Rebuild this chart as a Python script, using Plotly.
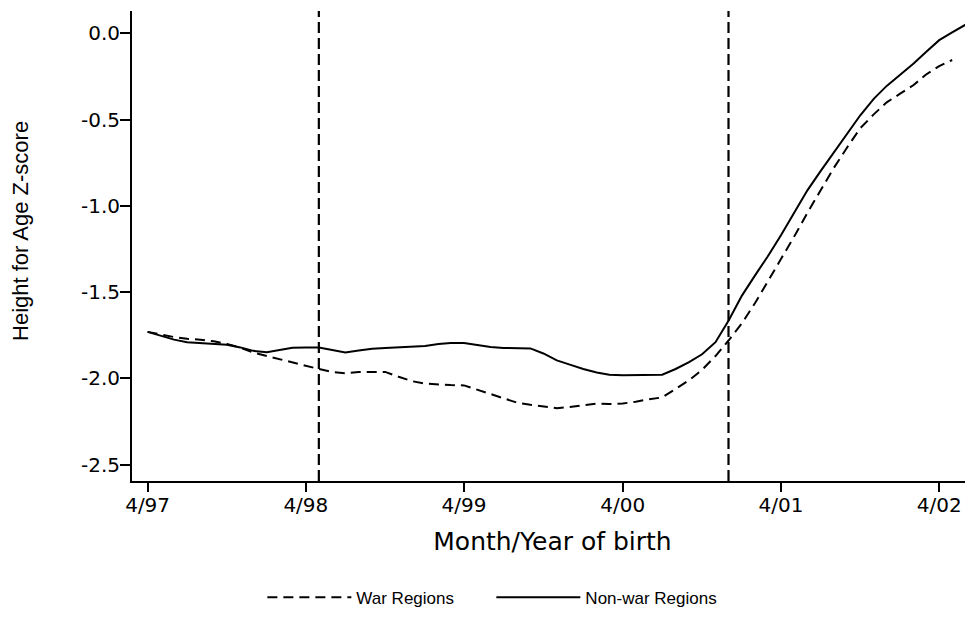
import pandas as pd
import plotly.graph_objects as go

# monthly birth cohorts, 4/97 onwards
months = pd.date_range("1997-04-01", periods=63, freq="MS")

non_war = [-1.73, -1.75, -1.775, -1.79, -1.795, -1.80, -1.805, -1.82, -1.84, -1.848,
           -1.835, -1.822, -1.82, -1.821, -1.835, -1.849, -1.838, -1.828, -1.824, -1.82,
           -1.815, -1.812, -1.80, -1.795, -1.795, -1.805, -1.818, -1.823, -1.824, -1.826,
           -1.855, -1.895, -1.92, -1.945, -1.965, -1.978, -1.982, -1.982, -1.982, -1.978,
           -1.945, -1.905, -1.86, -1.79, -1.665, -1.52, -1.40, -1.295, -1.17, -1.04,
           -0.91, -0.80, -0.69, -0.58, -0.475, -0.38, -0.305, -0.24, -0.175, -0.11,
           -0.04, 0.005, 0.05]

war = [-1.73, -1.745, -1.76, -1.77, -1.775, -1.785, -1.80, -1.822, -1.85, -1.87,
       -1.89, -1.91, -1.93, -1.945, -1.962, -1.97, -1.962, -1.962, -1.962, -1.99,
       -2.015, -2.03, -2.035, -2.038, -2.04, -2.065, -2.09, -2.115, -2.14, -2.152,
       -2.163, -2.172, -2.165, -2.153, -2.145, -2.148, -2.145, -2.135, -2.12, -2.11,
       -2.06, -2.01, -1.95, -1.87, -1.78, -1.68, -1.56, -1.44, -1.31, -1.18,
       -1.04, -0.91, -0.78, -0.66, -0.55, -0.47, -0.40, -0.35, -0.30, -0.24,
       -0.19, -0.155]

event_dates = ["1998-05-01", "2000-12-01"]

tick_dates = ["1997-04-01", "1998-04-01", "1999-04-01", "2000-04-01", "2001-04-01", "2002-04-01"]
tick_labels = ["4/97", "4/98", "4/99", "4/00", "4/01", "4/02"]
y_ticks = [0.0, -0.5, -1.0, -1.5, -2.0, -2.5]
y_labels = ["0.0", "-0.5", "-1.0", "-1.5", "-2.0", "-2.5"]

fig = go.Figure()
fig.add_trace(go.Scatter(x=months[:len(war)], y=war, mode="lines", name="War Regions",
                         line=dict(color="black", width=2, dash="10px,6px")))
fig.add_trace(go.Scatter(x=months[:len(non_war)], y=non_war, mode="lines", name="Non-war Regions",
                         line=dict(color="black", width=2)))

for d in event_dates:
    fig.add_shape(type="line", x0=d, x1=d, y0=0, y1=1, xref="x", yref="paper",
                  line=dict(color="black", width=2.2, dash="11px,5px"))

# y title sits a bit above the middle of the axis in the original
fig.add_annotation(text="Height for Age Z-score", xref="paper", yref="paper",
                   x=-0.132, y=0.532, xanchor="center", yanchor="middle",
                   textangle=-90, showarrow=False,
                   font=dict(family="Liberation Sans", size=22))

# page body has an 8px margin, so the figure is sized to fit inside it
fig.update_layout(
    width=965, height=602,
    margin=dict(l=124, r=0, t=3, b=129, autoexpand=False),
    plot_bgcolor="white", paper_bgcolor="white",
    font=dict(family="DejaVu Sans", color="black", size=20),
    showlegend=True,
    legend=dict(orientation="h", x=0.155, xanchor="left", y=-0.2485, yanchor="middle",
                font=dict(family="Liberation Sans", size=17), itemwidth=84,
                entrywidthmode="pixels", entrywidth=130),
    xaxis=dict(
        range=["1997-02-24", "2002-06-18"],
        tickvals=tick_dates, ticktext=tick_labels,
        ticks="outside", ticklen=9, tickwidth=2, tickcolor="black",
        ticklabelstandoff=-4,
        showline=True, linecolor="black", linewidth=2,
        showgrid=False, zeroline=False, automargin=False,
        title=dict(text="Month/Year of birth", font=dict(size=25), standoff=16),
    ),
    yaxis=dict(
        range=[-2.594, 0.129],
        tickvals=y_ticks, ticktext=y_labels,
        ticks="outside", ticklen=10, tickwidth=2, tickcolor="black",
        ticklabelstandoff=-4,
        showline=True, linecolor="black", linewidth=2,
        showgrid=False, zeroline=False, automargin=False,
    ),
)

fig.write_html("out.html")
